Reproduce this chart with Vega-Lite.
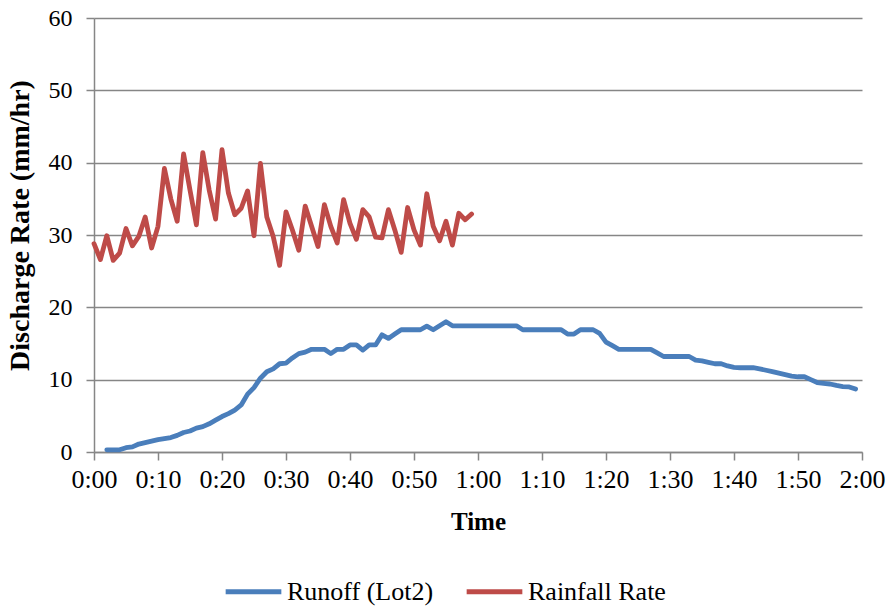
{
  "$schema": "https://vega.github.io/schema/vega-lite/v6.json",
  "width": 768,
  "height": 434,
  "autosize": {"type": "none"},
  "padding": {"left": 94, "top": 18, "right": 29, "bottom": 155},
  "background": "white",
  "config": {
    "font": "Liberation Serif, Times New Roman, serif",
    "view": {"stroke": null},
    "axis": {"labelFont": "Liberation Serif, Times New Roman, serif", "titleFont": "Liberation Serif, Times New Roman, serif", "labelColor": "black", "titleColor": "black"},
    "legend": {"labelFont": "Liberation Serif, Times New Roman, serif"}
  },
  "datasets": {
    "runoff": [
      {"m":2,"v":0.3},{"m":3,"v":0.3},{"m":4,"v":0.3},{"m":5,"v":0.6},{"m":6,"v":0.7},{"m":7,"v":1.1},{"m":8,"v":1.3},{"m":9,"v":1.5},{"m":10,"v":1.7},
      {"m":11,"v":1.85},{"m":12,"v":2.0},{"m":13,"v":2.3},{"m":14,"v":2.7},{"m":15,"v":2.9},{"m":16,"v":3.3},{"m":17,"v":3.5},{"m":18,"v":3.9},{"m":19,"v":4.4},{"m":20,"v":4.9},
      {"m":21,"v":5.3},{"m":22,"v":5.8},{"m":23,"v":6.5},{"m":24,"v":8.0},{"m":25,"v":8.9},{"m":26,"v":10.2},{"m":27,"v":11.1},{"m":28,"v":11.5},{"m":29,"v":12.2},{"m":30,"v":12.3},
      {"m":31,"v":13.0},{"m":32,"v":13.6},{"m":33,"v":13.8},{"m":34,"v":14.2},{"m":35,"v":14.2},{"m":36,"v":14.2},{"m":37,"v":13.6},{"m":38,"v":14.2},{"m":39,"v":14.2},{"m":40,"v":14.8},
      {"m":41,"v":14.8},{"m":42,"v":14.1},{"m":43,"v":14.8},{"m":44,"v":14.8},{"m":45,"v":16.2},{"m":46,"v":15.7},{"m":47,"v":16.3},{"m":48,"v":16.9},{"m":49,"v":16.9},{"m":50,"v":16.9},
      {"m":51,"v":16.9},{"m":52,"v":17.4},{"m":53,"v":16.9},{"m":54,"v":17.45},{"m":55,"v":18.0},{"m":56,"v":17.45},{"m":57,"v":17.45},{"m":58,"v":17.45},{"m":59,"v":17.45},{"m":60,"v":17.45},
      {"m":61,"v":17.45},{"m":62,"v":17.45},{"m":63,"v":17.45},{"m":64,"v":17.45},{"m":65,"v":17.45},{"m":66,"v":17.45},{"m":67,"v":16.9},{"m":68,"v":16.9},{"m":69,"v":16.9},{"m":70,"v":16.9},
      {"m":71,"v":16.9},{"m":72,"v":16.9},{"m":73,"v":16.9},{"m":74,"v":16.3},{"m":75,"v":16.3},{"m":76,"v":16.9},{"m":77,"v":16.9},{"m":78,"v":16.9},{"m":79,"v":16.4},{"m":80,"v":15.2},
      {"m":81,"v":14.7},{"m":82,"v":14.2},{"m":83,"v":14.2},{"m":84,"v":14.2},{"m":85,"v":14.2},{"m":86,"v":14.2},{"m":87,"v":14.2},{"m":88,"v":13.7},{"m":89,"v":13.2},{"m":90,"v":13.2},
      {"m":91,"v":13.2},{"m":92,"v":13.2},{"m":93,"v":13.2},{"m":94,"v":12.7},{"m":95,"v":12.6},{"m":96,"v":12.4},{"m":97,"v":12.2},{"m":98,"v":12.2},{"m":99,"v":11.9},{"m":100,"v":11.7},
      {"m":101,"v":11.65},{"m":102,"v":11.65},{"m":103,"v":11.65},{"m":104,"v":11.5},{"m":105,"v":11.3},{"m":106,"v":11.1},{"m":107,"v":10.9},{"m":108,"v":10.7},{"m":109,"v":10.5},{"m":110,"v":10.4},
      {"m":111,"v":10.4},{"m":112,"v":10.0},{"m":113,"v":9.6},{"m":114,"v":9.5},{"m":115,"v":9.4},{"m":116,"v":9.2},{"m":117,"v":9.05},{"m":118,"v":9.0},{"m":119,"v":8.7}
    ],
    "rain": [
      {"m":0,"v":28.8},{"m":1,"v":26.6},{"m":2,"v":29.9},{"m":3,"v":26.5},{"m":4,"v":27.5},{"m":5,"v":30.9},{"m":6,"v":28.5},{"m":7,"v":29.8},{"m":8,"v":32.5},{"m":9,"v":28.2},
      {"m":10,"v":31.2},{"m":11,"v":39.2},{"m":12,"v":35.0},{"m":13,"v":31.9},{"m":14,"v":41.2},{"m":15,"v":36.2},{"m":16,"v":31.4},{"m":17,"v":41.4},{"m":18,"v":36.2},{"m":19,"v":32.2},
      {"m":20,"v":41.8},{"m":21,"v":35.8},{"m":22,"v":32.8},{"m":23,"v":33.7},{"m":24,"v":36.1},{"m":25,"v":29.9},{"m":26,"v":39.9},{"m":27,"v":32.5},{"m":28,"v":29.8},{"m":29,"v":25.8},
      {"m":30,"v":33.2},{"m":31,"v":30.7},{"m":32,"v":27.9},{"m":33,"v":34.0},{"m":34,"v":31.2},{"m":35,"v":28.4},{"m":36,"v":34.2},{"m":37,"v":31.2},{"m":38,"v":28.9},{"m":39,"v":34.9},
      {"m":40,"v":31.6},{"m":41,"v":29.4},{"m":42,"v":33.5},{"m":43,"v":32.5},{"m":44,"v":29.7},{"m":45,"v":29.6},{"m":46,"v":33.5},{"m":47,"v":30.7},{"m":48,"v":27.6},{"m":49,"v":33.8},
      {"m":50,"v":30.7},{"m":51,"v":28.6},{"m":52,"v":35.7},{"m":53,"v":31.2},{"m":54,"v":29.2},{"m":55,"v":31.9},{"m":56,"v":28.6},{"m":57,"v":33.0},{"m":58,"v":32.1},{"m":59,"v":32.9}
    ]
  },
  "layer": [
    {
      "data": {"name": "runoff"},
      "transform": [{"calculate": "'Runoff (Lot2)'", "as": "series"}],
      "mark": {"type": "line", "strokeWidth": 4.8, "strokeJoin": "round", "strokeCap": "round"},
      "encoding": {
        "x": {"field": "m", "type": "quantitative", "scale": {"domain": [0, 120], "nice": false},
          "axis": {"values": [0,10,20,30,40,50,60,70,80,90,100,110,120], "title": "Time", "titleFontSize": 25, "titleFontWeight": "bold", "titlePadding": 17,
            "labelFontSize": 26, "labelPadding": 6, "labelOverlap": false, "labelFlush": false, "labelBound": false,
            "tickSize": 8, "tickColor": "#868686", "tickWidth": 1.5, "domainColor": "#868686", "domainWidth": 1.5, "grid": false,
            "labelExpr": "floor(datum.value/60) + ':' + (datum.value % 60 < 10 ? '0' : '') + (datum.value % 60)"}},
        "y": {"field": "v", "type": "quantitative", "scale": {"domain": [0, 60], "nice": false},
          "axis": {"values": [0,10,20,30,40,50,60], "title": "Discharge Rate (mm/hr)", "titleFontSize": 28, "titleFontWeight": "bold", "titleX": -60, "titleY": 207, "titleBaseline": "bottom", "titleAngle": 270,
            "labelFontSize": 24, "labelPadding": 14, "labelOverlap": false, "labelFlush": false,
            "tickSize": 8, "tickColor": "#868686", "tickWidth": 1.5, "domainColor": "#868686", "domainWidth": 1.5,
            "grid": true, "gridColor": "#868686", "gridWidth": 1.5}},
        "color": {"field": "series", "type": "nominal",
          "scale": {"domain": ["Runoff (Lot2)", "Rainfall Rate"], "range": ["#4A7EBB", "#BE4B48"]},
          "legend": {"orient": "none", "legendX": 129, "legendY": 543, "direction": "horizontal", "title": null, "padding": 0,
            "symbolType": "stroke", "symbolSize": 3100, "symbolStrokeWidth": 5, "labelFontSize": 26, "labelLimit": 300, "labelColor": "black",
            "columnPadding": 22, "labelOffset": 3}}
      }
    },
    {
      "data": {"name": "rain"},
      "transform": [{"calculate": "'Rainfall Rate'", "as": "series"}],
      "mark": {"type": "line", "strokeWidth": 4.8, "strokeJoin": "round", "strokeCap": "round"},
      "encoding": {
        "x": {"field": "m", "type": "quantitative"},
        "y": {"field": "v", "type": "quantitative"},
        "color": {"field": "series", "type": "nominal"}
      }
    }
  ]
}
